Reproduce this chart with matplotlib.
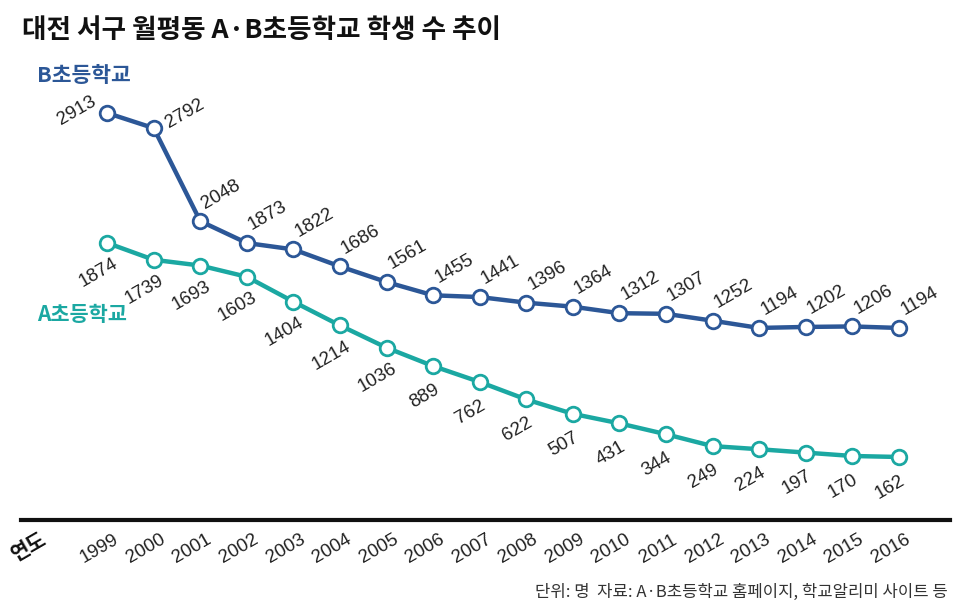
import matplotlib
matplotlib.use("Agg")
import matplotlib.pyplot as plt

plt.rcParams['font.family'] = ['Noto Sans CJK KR', 'DejaVu Sans']

years = list(range(1999, 2017))
year_labels = [str(y) for y in years]
school_b = [2913, 2792, 2048, 1873, 1822, 1686, 1561, 1455, 1441, 1396, 1364, 1312, 1307, 1252, 1194, 1202, 1206, 1194]
school_a = [1874, 1739, 1693, 1603, 1404, 1214, 1036, 889, 762, 622, 507, 431, 344, 249, 224, 197, 170, 162]

title = "대전 서구 월평동 A·B초등학교 학생 수 추이"
name_b = "B초등학교"
name_a = "A초등학교"
x_title = "연도"
footnote = "단위: 명  자료: A·B초등학교 홈페이지, 학교알리미 사이트 등"

W, H = 970, 615
fig = plt.figure(figsize=(W / 100, H / 100), dpi=100)

# axes: bottom spine at y=520px, top at y=100px; x from 21 to 950px
left, right, top, bottom = 21, 950, 100, 520
ax = fig.add_axes([left / W, (H - bottom) / H, (right - left) / W, (bottom - top) / H])
ax.set_xlim(1997.15, 2017.1)
ax.set_ylim(-342, 3017)
for s in ['top', 'right', 'left']:
    ax.spines[s].set_visible(False)
ax.spines['bottom'].set_linewidth(3)
ax.spines['bottom'].set_color('#111111')
ax.set_yticks([])
ax.set_xticks(years)
ax.set_xticklabels([])
ax.tick_params(axis='x', length=0)

col_b = '#2c5797'
col_a = '#1ba8a2'
num_font = ['Liberation Sans', 'DejaVu Sans']
num_size = 13.5

for vals, col in ((school_b, col_b), (school_a, col_a)):
    ax.plot(years, vals, color=col, lw=3.2, marker='o', markersize=10.5,
            markerfacecolor='white', markeredgecolor=col, markeredgewidth=2.0,
            solid_joinstyle='round', zorder=3)

# data labels
for i, (x, v) in enumerate(zip(years, school_b)):
    if i == 0:
        off = (-30, 2)
    elif i == 1:
        off = (31, 14)
    else:
        off = (21, 27)
    ax.annotate(str(v), (x, v), xytext=off, textcoords='offset pixels',
                ha='center', va='center', rotation=30, rotation_mode='anchor',
                fontsize=num_size, family=num_font, color='#222222')

for x, v in zip(years, school_a):
    ax.annotate(str(v), (x, v), xytext=(-9, -30), textcoords='offset pixels',
                ha='center', va='center', rotation=30, rotation_mode='anchor',
                fontsize=num_size, family=num_font, color='#222222')

# year labels
for x, lab in zip(years, year_labels):
    ax.annotate(lab, (x, -342), xytext=(-8, -29), textcoords='offset pixels',
                ha='center', va='center', rotation=30, rotation_mode='anchor',
                fontsize=num_size, family=num_font, color='#222222', annotation_clip=False)

fig.text(22 / W, 1 - 30 / H, title, fontsize=19.2, fontweight='bold',
         ha='left', va='center', color='#111111')
fig.text(37 / W, 1 - 75 / H, name_b, fontsize=15.5, fontweight='bold',
         ha='left', va='center', color=col_b)
fig.text(37 / W, 1 - 314 / H, name_a, fontsize=15, fontweight='bold',
         ha='left', va='center', color=col_a)
fig.text(29 / W, 1 - 546 / H, x_title, fontsize=14.5, fontweight='bold',
         ha='center', va='center', rotation=30, rotation_mode='anchor', color='#111111')
fig.text(948 / W, 1 - 592 / H, footnote, fontsize=12,
         ha='right', va='center', color='#333333')

fig.savefig('out.png', dpi=100)
